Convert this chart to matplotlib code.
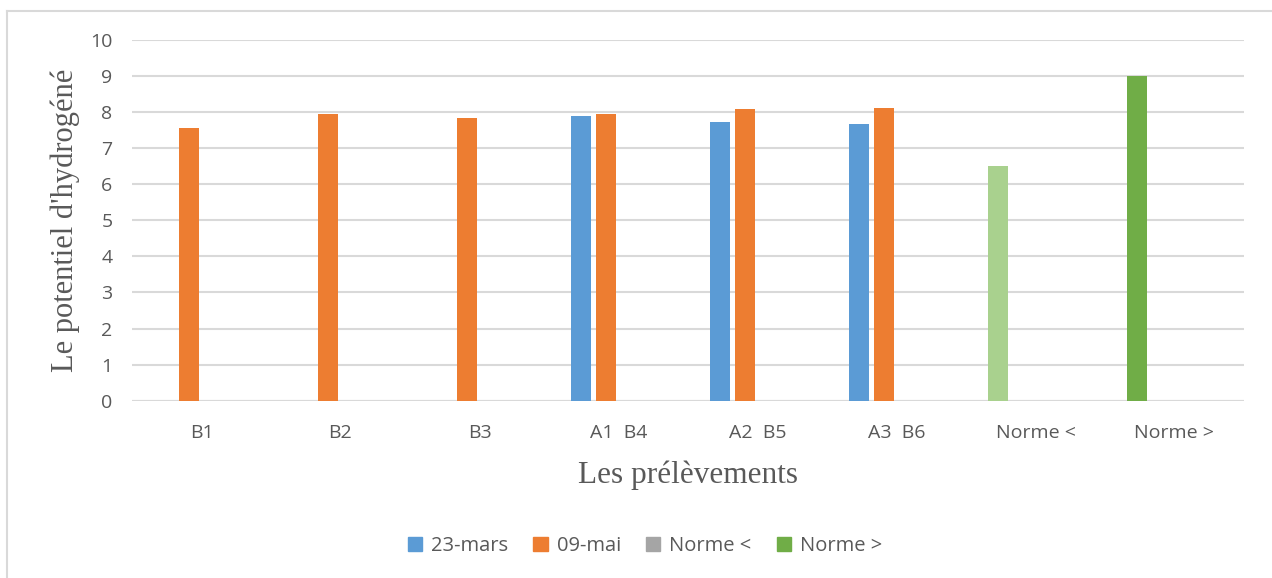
import numpy as np
import matplotlib.pyplot as plt
from matplotlib.patches import Patch
from matplotlib.lines import Line2D

# --- Données ---
prelevements = ["B1", "B2", "B3", "A1  B4", "A2  B5", "A3  B6", "Norme <", "Norme >"]
ph_23_mars = [np.nan, np.nan, np.nan, 7.90, 7.73, 7.68, np.nan, np.nan]
ph_09_mai = [7.56, 7.94, 7.83, 7.96, 8.08, 8.11, np.nan, np.nan]
norme_min = [np.nan] * 6 + [6.5, np.nan]
norme_max = [np.nan] * 7 + [9.0]
series_labels = ["23-mars", "09-mai", "Norme <", "Norme >"]

BLEU = "#5B9BD5"
ORANGE = "#ED7D31"
GRIS = "#A5A5A5"
VERT = "#70AD47"
VERT_CLAIR = "#A9D18E"
TEXTE = "#595959"
GRILLE = "#D9D9D9"

fig = plt.figure(figsize=(12.72, 5.78), dpi=100)
ax = fig.add_axes([132 / 1272, 1 - 400.7 / 578, 1112 / 1272, 360.7 / 578])

x = np.arange(len(prelevements))
w = 20 / 139      # largeur d'une barre (en fraction de catégorie)
pas = 25 / 139    # décalage entre barres d'un groupe

ax.bar(x - 1.5 * pas, ph_23_mars, w, color=BLEU, zorder=3)
ax.bar(x - 0.5 * pas, ph_09_mai, w, color=ORANGE, zorder=3)
# les normes sont placées dans la première colonne du groupe
ax.bar(x - 1.5 * pas, norme_min, w, color=VERT_CLAIR, zorder=3)
ax.bar(x - 1.5 * pas, norme_max, w, color=VERT, zorder=3)

ax.set_xlim(-0.5, len(prelevements) - 0.5)
ax.set_ylim(0, 10)
ax.set_yticks(range(0, 11))
ax.set_xticks(x)
ax.set_xticklabels(prelevements)
ax.yaxis.grid(True, color=GRILLE, linewidth=1.5, zorder=0)
ax.tick_params(length=0, labelsize=14, labelcolor=TEXTE)
ax.tick_params(axis="y", pad=14)
ax.tick_params(axis="x", pad=17)
for s in ax.spines.values():
    s.set_visible(False)
ax.axhline(0, color=GRILLE, linewidth=1.5, zorder=2)

for lbl in ax.get_xticklabels() + ax.get_yticklabels():
    lbl.set_family(["Open Sans", "DejaVu Sans"])

ax.set_ylabel("Le potentiel d'hydrogéné", family="Liberation Serif",
              fontsize=22, color=TEXTE, labelpad=7)
ax.set_xlabel("Les prélèvements", family="Liberation Serif",
              fontsize=22.5, color=TEXTE, labelpad=13)

handles = [Patch(color=c) for c in (BLEU, ORANGE, GRIS, VERT)]
fig.legend(handles, series_labels, loc="center", bbox_to_anchor=(645 / 1272, 1 - 546 / 578),
           ncol=4, frameon=False, handlelength=0.7, handleheight=0.7,
           handletextpad=0.45, columnspacing=1.25,
           prop={"family": "Open Sans", "size": 14.5}, labelcolor=TEXTE)

# cadre du graphique
fig.add_artist(Line2D([7 / 1272, 7 / 1272], [0, 1 - 11 / 578], color=GRILLE, linewidth=1.5))
fig.add_artist(Line2D([7 / 1272, 1], [1 - 11 / 578, 1 - 11 / 578], color=GRILLE, linewidth=1.5))

fig.savefig("out.png", dpi=100)
